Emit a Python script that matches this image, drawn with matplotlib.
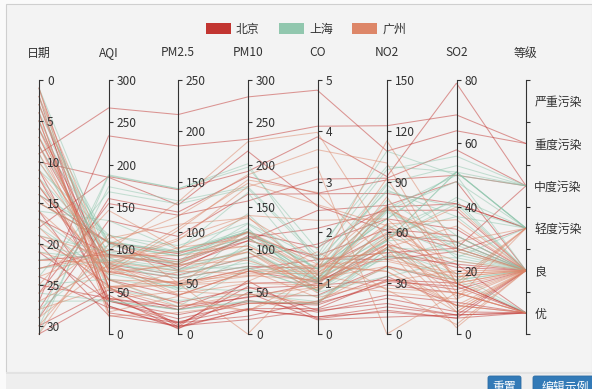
import matplotlib
matplotlib.use('Agg')
import matplotlib.pyplot as plt
from matplotlib.patches import Rectangle, FancyBboxPatch, Patch
import numpy as np

plt.rcParams['font.family'] = ['Noto Sans CJK SC', 'DejaVu Sans']

# ---------------- data ----------------
dims = ['日期', 'AQI', 'PM2.5', 'PM10', 'CO', 'NO2', 'SO2', '等级']
levels = ['优', '良', '轻度污染', '中度污染', '重度污染', '严重污染']
axis_max = [31, 300, 250, 300, 5, 150, 80]
axis_ticks = [
    [0, 5, 10, 15, 20, 25, 30],
    [0, 50, 100, 150, 200, 250, 300],
    [0, 50, 100, 150, 200, 250],
    [0, 50, 100, 150, 200, 250, 300],
    [0, 1, 2, 3, 4, 5],
    [0, 30, 60, 90, 120, 150],
    [0, 20, 40, 60, 80],
]
cities = ['北京', '上海', '广州']
city_colors = ['#c23531', '#91c7ae', '#dd8668']

data_bj = [
    [1, 55, 9, 56, 0.46, 18, 6, "良"],
    [2, 25, 11, 21, 0.65, 34, 9, "优"],
    [3, 56, 7, 63, 0.3, 14, 5, "良"],
    [4, 33, 7, 29, 0.33, 16, 6, "优"],
    [5, 42, 24, 44, 0.76, 40, 16, "优"],
    [6, 82, 58, 90, 1.77, 68, 33, "良"],
    [7, 74, 49, 77, 1.46, 48, 27, "良"],
    [8, 78, 55, 80, 1.29, 59, 29, "良"],
    [9, 267, 216, 280, 4.8, 108, 64, "重度污染"],
    [10, 185, 127, 216, 2.52, 61, 27, "中度污染"],
    [11, 39, 19, 38, 0.57, 31, 15, "优"],
    [12, 41, 11, 40, 0.43, 21, 7, "优"],
    [13, 64, 38, 74, 1.04, 46, 22, "良"],
    [14, 108, 79, 120, 1.7, 75, 41, "轻度污染"],
    [15, 108, 63, 116, 1.48, 44, 26, "轻度污染"],
    [16, 33, 6, 29, 0.34, 13, 5, "优"],
    [17, 94, 66, 110, 1.54, 62, 31, "良"],
    [18, 186, 142, 192, 3.88, 93, 79, "中度污染"],
    [19, 57, 31, 54, 0.96, 32, 14, "良"],
    [20, 22, 8, 17, 0.48, 23, 10, "优"],
    [21, 39, 15, 36, 0.61, 29, 13, "优"],
    [22, 94, 69, 114, 2.08, 73, 39, "良"],
    [23, 99, 73, 110, 2.43, 76, 48, "良"],
    [24, 31, 12, 30, 0.5, 32, 16, "优"],
    [25, 42, 27, 43, 1, 53, 22, "优"],
    [26, 154, 117, 157, 3.05, 92, 58, "中度污染"],
    [27, 234, 185, 230, 4.09, 123, 69, "重度污染"],
    [28, 160, 120, 186, 2.77, 91, 50, "中度污染"],
    [29, 134, 96, 165, 2.76, 83, 41, "轻度污染"],
    [30, 52, 24, 60, 1.03, 50, 21, "良"],
    [31, 46, 5, 49, 0.28, 10, 6, "优"],
]

data_sh = [
    [1, 91, 45, 125, 0.82, 34, 23, "良"],
    [2, 65, 27, 78, 0.86, 45, 29, "良"],
    [3, 83, 60, 84, 1.09, 73, 27, "良"],
    [4, 109, 81, 121, 1.28, 68, 51, "轻度污染"],
    [5, 106, 77, 114, 1.07, 55, 51, "轻度污染"],
    [6, 109, 81, 121, 1.28, 68, 51, "轻度污染"],
    [7, 106, 77, 114, 1.07, 55, 51, "轻度污染"],
    [8, 89, 65, 78, 0.86, 51, 26, "良"],
    [9, 53, 33, 47, 0.64, 50, 17, "良"],
    [10, 80, 55, 80, 1.01, 75, 24, "良"],
    [11, 117, 81, 124, 1.03, 45, 24, "轻度污染"],
    [12, 99, 71, 142, 1.1, 62, 42, "良"],
    [13, 95, 69, 130, 1.28, 74, 50, "良"],
    [14, 116, 87, 131, 1.47, 84, 40, "轻度污染"],
    [15, 108, 80, 121, 1.3, 85, 37, "轻度污染"],
    [16, 134, 83, 167, 1.16, 57, 43, "轻度污染"],
    [17, 79, 43, 107, 1.05, 59, 37, "良"],
    [18, 71, 46, 89, 0.86, 64, 25, "良"],
    [19, 97, 71, 113, 1.17, 88, 31, "良"],
    [20, 84, 57, 91, 0.85, 55, 31, "良"],
    [21, 87, 63, 101, 0.9, 56, 41, "良"],
    [22, 104, 77, 119, 1.09, 73, 48, "轻度污染"],
    [23, 87, 62, 100, 1, 72, 28, "良"],
    [24, 168, 128, 172, 1.49, 97, 56, "中度污染"],
    [25, 65, 45, 51, 0.74, 39, 17, "良"],
    [26, 39, 24, 38, 0.61, 47, 17, "优"],
    [27, 39, 24, 39, 0.59, 50, 19, "优"],
    [28, 93, 68, 96, 1.05, 79, 29, "良"],
    [29, 188, 143, 197, 1.66, 99, 51, "中度污染"],
    [30, 174, 131, 174, 1.55, 108, 50, "中度污染"],
    [31, 187, 143, 201, 1.39, 89, 53, "中度污染"],
]

data_gz = [
    [1, 26, 37, 27, 1.163, 27, 13, "优"],
    [2, 85, 62, 71, 1.195, 60, 8, "良"],
    [3, 78, 38, 74, 1.363, 37, 7, "良"],
    [4, 21, 21, 36, 0.634, 40, 9, "优"],
    [5, 41, 42, 46, 0.915, 81, 13, "优"],
    [6, 56, 52, 69, 1.067, 92, 16, "良"],
    [7, 64, 30, 28, 0.924, 51, 2, "良"],
    [8, 55, 48, 74, 1.236, 75, 26, "良"],
    [9, 76, 85, 113, 1.237, 114, 27, "良"],
    [10, 91, 81, 104, 1.041, 56, 40, "良"],
    [11, 84, 39, 60, 0.964, 25, 11, "良"],
    [12, 64, 51, 101, 0.862, 58, 23, "良"],
    [13, 70, 69, 120, 1.198, 65, 36, "良"],
    [14, 77, 105, 178, 2.549, 64, 16, "良"],
    [15, 109, 68, 87, 0.996, 74, 29, "轻度污染"],
    [16, 73, 68, 97, 0.905, 51, 34, "良"],
    [17, 54, 27, 47, 0.592, 53, 12, "良"],
    [18, 51, 61, 97, 0.811, 65, 19, "良"],
    [19, 91, 71, 121, 1.374, 43, 18, "良"],
    [20, 73, 102, 182, 2.787, 44, 19, "良"],
    [21, 73, 50, 76, 0.717, 31, 20, "良"],
    [22, 84, 94, 140, 2.238, 68, 18, "良"],
    [23, 93, 77, 104, 1.165, 53, 7, "良"],
    [24, 99, 130, 227, 3.97, 55, 15, "良"],
    [25, 146, 84, 139, 1.094, 40, 17, "轻度污染"],
    [26, 113, 108, 137, 1.481, 48, 15, "轻度污染"],
    [27, 81, 48, 62, 1.619, 26, 3, "良"],
    [28, 56, 48, 68, 1.336, 37, 9, "良"],
    [29, 82, 92, 174, 3.29, 0, 13, "良"],
    [30, 106, 116, 188, 3.628, 101, 16, "轻度污染"],
    [31, 118, 50, 0, 1.383, 76, 11, "轻度污染"],
]

# ---------------- layout ----------------
W, H = 592, 389
fig = plt.figure(figsize=(W / 100, H / 100), dpi=100)
fig.patch.set_facecolor('#fafafa')

def fx(px):
    return px / W

def fy(py):
    return 1 - py / H

# page background / frame
bg = fig.add_axes([0, 0, 1, 1], zorder=-10)
bg.set_xlim(0, W)
bg.set_ylim(H, 0)
bg.axis('off')
bg.add_patch(Rectangle((6, 4), W - 6, 368, facecolor='#f3f3f3', edgecolor='#cfcfcf', lw=0.8))
bg.add_patch(Rectangle((6, 372), W - 6, 20, facecolor='#eeeeee', edgecolor='none'))
bg.add_patch(Rectangle((6, 372), W - 6, 2, facecolor='#e2e2e2', edgecolor='none'))
bg.add_patch(FancyBboxPatch((488, 376), 33, 20, boxstyle='round,pad=0,rounding_size=2',
                            facecolor='#337ab7', edgecolor='#2e6da4', lw=0.6))
bg.add_patch(FancyBboxPatch((533, 376), 65, 20, boxstyle='round,pad=0,rounding_size=2',
                            facecolor='#337ab7', edgecolor='#2e6da4', lw=0.6))
bg.text(504.5, 387, '重置', color='white', ha='center', va='center', fontsize=8.6)
bg.text(565, 387, '编辑示例', color='white', ha='center', va='center', fontsize=8.6)

axis_x = [39, 108.5, 178, 248, 317.5, 387, 456.5, 526]
top_px, bot_px = 80, 334
b = fy(bot_px)
h = (bot_px - top_px) / H

# main line axes: x = dimension index, y = normalised position
ax = fig.add_axes([fx(axis_x[0]), b, fx(axis_x[-1]) - fx(axis_x[0]), h])
ax.set_xlim(0, len(dims) - 1)
ax.set_ylim(0, 1)
ax.axis('off')
ax.patch.set_alpha(0)

def normalise(row):
    out = [1 - row[0] / axis_max[0]]
    for i in range(1, 7):
        out.append(row[i] / axis_max[i])
    out.append((levels.index(row[7]) + 0.5) / len(levels))
    return out

xs = np.arange(len(dims))
for data, color in zip([data_bj, data_sh, data_gz], city_colors):
    for row in data:
        ax.plot(xs, normalise(row), color=color, lw=0.75, alpha=0.5, clip_on=False)

text_color = '#333333'
fs = 8.6
for i, name in enumerate(dims):
    a = fig.add_axes([fx(axis_x[i]) - 0.00005, b, 0.0001, h])
    a.patch.set_alpha(0)
    for s in ['left', 'top', 'bottom']:
        a.spines[s].set_visible(False)
    a.spines['right'].set_color(text_color)
    a.spines['right'].set_linewidth(0.8)
    a.set_xticks([])
    a.yaxis.set_ticks_position('right')
    a.tick_params(axis='y', which='major', length=3.2, width=0.8, color=text_color,
                  labelsize=fs, labelcolor=text_color, pad=2.5)
    if i < 7:
        if i == 0:
            a.set_ylim(axis_max[0], 0)
        else:
            a.set_ylim(0, axis_max[i])
        a.set_yticks(axis_ticks[i])
        a.set_yticklabels([str(t) for t in axis_ticks[i]])
    else:
        a.set_ylim(0, len(levels))
        a.set_yticks(np.arange(len(levels) + 1))
        a.set_yticklabels([])
        a.set_yticks(np.arange(len(levels)) + 0.5, minor=True)
        a.set_yticklabels(levels, minor=True)
        a.tick_params(axis='y', which='minor', length=0, labelsize=fs,
                      labelcolor=text_color, pad=6)
    fig.text(fx(axis_x[i]), fy(53), name, ha='center', va='center',
             fontsize=fs, color=text_color)

handles = [Patch(facecolor=c, edgecolor='none') for c in city_colors]
fig.legend(handles, cities, ncol=3, loc='center', bbox_to_anchor=(fx(306), fy(29)),
           frameon=False, fontsize=fs, handlelength=2.1, handleheight=1.15,
           handletextpad=0.45, columnspacing=1.6, labelcolor=text_color)

fig.savefig('out.png', dpi=100, facecolor=fig.get_facecolor())
